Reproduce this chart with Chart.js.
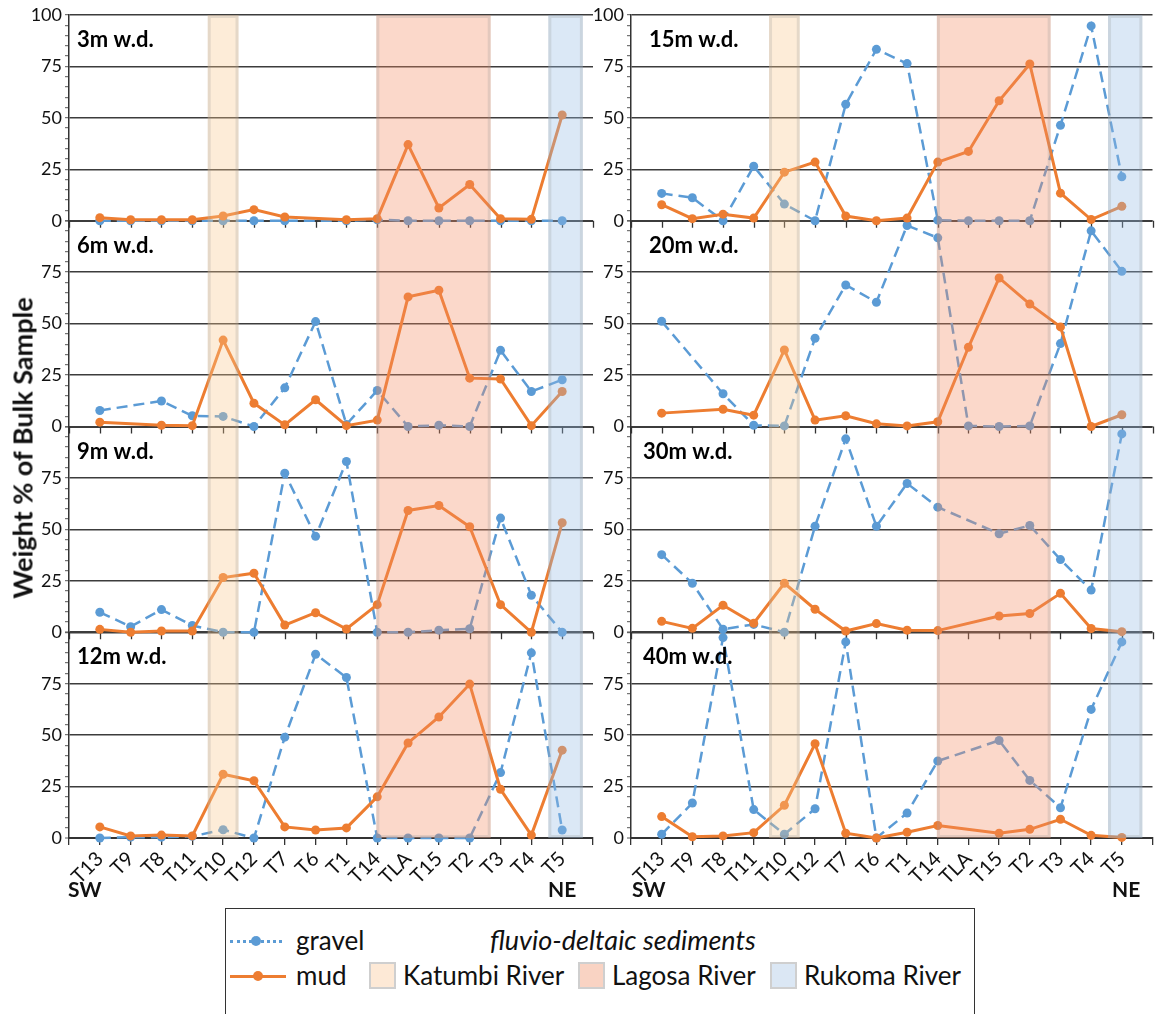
<!DOCTYPE html>
<html>
<head>
<meta charset="utf-8">
<script src="https://cdn.jsdelivr.net/npm/chart.js@4.4.1/dist/chart.umd.min.js"></script>
<style>
  html, body { margin: 0; padding: 0; background: #fff; }
  body { width: 1157px; height: 1014px; position: relative; overflow: hidden; font-family: Lato, "Open Sans", sans-serif; color: #111; }
  #leftChart { position: absolute; left: 0; top: 0; }
  #rightChart { position: absolute; left: 590px; top: 0; }
  #ytitle { position: absolute; left: 22px; top: 448px; transform: translate(-50%, -50%) rotate(-90deg);
            font-weight: bold; font-size: 27px; white-space: nowrap; }
  .dir { position: absolute; top: 876px; font-weight: bold; font-size: 21px; }
  #legend { position: absolute; left: 225px; top: 908px; width: 750px; height: 108px; border: 1.5px solid #333; box-sizing: border-box; font-size: 26px; }
  #legend .t { position: absolute; line-height: 26px; white-space: nowrap; }
  .ln { position: absolute; height: 0; }
  .dot { position: absolute; width: 10px; height: 10px; border-radius: 50%; }
  .sw { position: absolute; width: 27px; height: 27px; box-sizing: border-box; border: 2px solid #cfcfcf; }
</style>
</head>
<body>
<canvas id="leftChart" width="600" height="900"></canvas>
<canvas id="rightChart" width="567" height="900"></canvas>
<div id="ytitle">Weight % of Bulk Sample</div>
<div class="dir" style="left:68px">SW</div>
<div class="dir" style="left:548px">NE</div>
<div class="dir" style="left:632px">SW</div>
<div class="dir" style="left:1112px">NE</div>
<div id="legend">
  <div class="ln" style="left:4px; width:52px; top:31px; border-top:3px dotted #5b9bd5;"></div>
  <div class="dot" style="left:25px; top:27px; background:#5b9bd5;"></div>
  <div class="t" style="left:70px; top:18px;">gravel</div>
  <div class="t" style="left:264px; top:18px; font-style:italic; font-size:27px;">fluvio-deltaic sediments</div>
  <div class="ln" style="left:4px; width:56px; top:66px; border-top:3px solid #ed7d31;"></div>
  <div class="dot" style="left:27px; top:62px; background:#ed7d31;"></div>
  <div class="t" style="left:70px; top:53px;">mud</div>
  <div class="sw" style="left:143px; top:53px; background:#fde9d6;"></div>
  <div class="t" style="left:177px; top:53px;">Katumbi River</div>
  <div class="sw" style="left:352px; top:53px; background:#f9d3c3;"></div>
  <div class="t" style="left:386px; top:53px;">Lagosa River</div>
  <div class="sw" style="left:544px; top:53px; background:#dbe7f4;"></div>
  <div class="t" style="left:578px; top:53px;">Rukoma River</div>
</div>

<script>
// Sample stations, ordered SW -> NE along the shoreline
const CATEGORIES = ['T13','T9','T8','T11','T10','T12','T7','T6','T1','T14','TLA','T15','T2','T3','T4','T5'];

// Weight % of bulk sample per water depth (null = no sample)
const GRAVEL_3M  = [0, 0, 0, 0, 0, 0, 0, null, 0, 0.5, 0, 0, 0, 0, 0, 0];
const MUD_3M     = [1.5, 0.5, 0.5, 0.5, 2.3, 5.4, 1.8, null, 0.5, 1, 37, 6.2, 17.6, 1, 0.7, 51.4];
const GRAVEL_6M  = [7.8, null, 12.4, 5.2, 4.9, 0, 18.8, 51, 1, 17.5, 0, 0.6, 0, 37, 17, 22.7];
const MUD_6M     = [2.1, null, 0.6, 0.4, 42, 11.3, 0.8, 13, 0.4, 3.1, 63, 66.2, 23.5, 23.1, 0.4, 17];
const GRAVEL_9M  = [9.7, 2.7, 11, 3.3, 0, 0, 77.3, 46.6, 83, 0, 0, 1, 1.7, 55.5, 18, 0];
const MUD_9M     = [1.4, 0, 0.6, 0.6, 26.6, 28.7, 3.5, 9.5, 1.6, 13.4, 59.2, 61.6, 51.3, 13.4, 0, 53.2];
const GRAVEL_12M = [0, 0.4, 0.4, 0.8, 4, 0, 49, 89.3, 78, 0, 0, 0, 0, 31.8, 90, 3.9];
const MUD_12M    = [5.4, 1, 1.4, 1, 31, 27.8, 5.4, 3.9, 4.9, 20, 46.2, 58.8, 74.8, 23.7, 1.4, 42.7];
const GRAVEL_15M = [13.3, 11.2, 0, 26.5, 8.1, 0, 56.6, 83.3, 76.4, 0.3, 0, 0, 0, 46.4, 94.7, 21.4];
const MUD_15M    = [7.8, 1, 3.2, 1.3, 23.6, 28.5, 2.3, 0, 1.3, 28.5, 33.7, 58.3, 76.2, 13.4, 0.6, 7];
const GRAVEL_20M = [51.1, null, 15.9, 0.6, 0.3, 42.9, 68.8, 60.4, 97.7, 91.7, 0.3, 0, 0.3, 40.3, 95.1, 75.4];
const MUD_20M    = [6.5, null, 8.4, 5.5, 37.2, 3.1, 5.2, 1.3, 0.3, 2.3, 38.5, 72.2, 59.5, 48.4, 0, 5.7];
const GRAVEL_30M = [37.7, 23.8, 1.5, 3.8, 0, 51.5, 94, 51.5, 72.3, 60.8, null, 47.9, 51.9, 35.3, 20.5, 96.4];
const MUD_30M    = [5.3, 1.9, 13.1, 4.4, 23.8, 11.2, 0.6, 4.2, 1, 0.8, null, 7.9, 9.1, 18.9, 1.8, 0.3];
const GRAVEL_40M = [1.8, 17, 97.4, 13.8, 1.8, 14.2, 95.3, 0, 12.1, 37.4, null, 47.4, 28, 14.7, 62.5, 95.3];
const MUD_40M    = [10.4, 0.6, 1, 2.6, 15.9, 45.8, 2.3, 0, 2.8, 6.1, null, 2.3, 4.2, 9.1, 1.3, 0.3];

const Y_MAJOR_STEP = 25;
const Y_MIN = 0, Y_MAX = 100;

// River-mouth zones, in station-index units along the x axis
const RIVER_BANDS = [
  { name: 'Katumbi River', from: 3.5,  to: 4.5,   fill: 'rgba(250,200,140,0.34)' },
  { name: 'Lagosa River',  from: 8.97, to: 12.68, fill: 'rgba(243,140,100,0.34)' },
  { name: 'Rukoma River',  from: 14.55, to: 15.67, fill: 'rgba(150,188,228,0.34)' }
];

const GRAVEL_COLOR = '#5b9bd5';
const MUD_COLOR = '#ed7d31';
const GRID_COLOR = '#3c3c3c';

Chart.defaults.font.family = 'Lato, "Open Sans", sans-serif';
Chart.defaults.color = '#111';

function toPoints(values) {
  return values.map((v, i) => ({ x: i, y: v }));
}

const LEFT_PANELS = [
  { label: '3m w.d.',  gravel: GRAVEL_3M,  mud: MUD_3M,  labelDx: 8 },
  { label: '6m w.d.',  gravel: GRAVEL_6M,  mud: MUD_6M,  labelDx: 8 },
  { label: '9m w.d.',  gravel: GRAVEL_9M,  mud: MUD_9M,  labelDx: 8 },
  { label: '12m w.d.', gravel: GRAVEL_12M, mud: MUD_12M, labelDx: 8 }
];
const RIGHT_PANELS = [
  { label: '15m w.d.', gravel: GRAVEL_15M, mud: MUD_15M, labelDx: 18 },
  { label: '20m w.d.', gravel: GRAVEL_20M, mud: MUD_20M, labelDx: 18 },
  { label: '30m w.d.', gravel: GRAVEL_30M, mud: MUD_30M, labelDx: 12 },
  { label: '40m w.d.', gravel: GRAVEL_40M, mud: MUD_40M, labelDx: 12 }
];

const decorPlugin = {
  id: 'panelDecor',
  beforeDatasetsDraw(chart, args, opts) {
    // tick marks under each inner panel's zero line
    const { ctx } = chart;
    const x = chart.scales.x;
    const panels = opts.panels;
    ctx.save();
    ctx.strokeStyle = '#333';
    ctx.lineWidth = 1.3;
    panels.forEach((p, i) => {
      if (i === panels.length - 1) return;
      const y0 = chart.scales['y' + i].getPixelForValue(0);
      x.ticks.forEach(t => {
        const px = Math.round(x.getPixelForValue(t.value)) + 0.5;
        ctx.beginPath();
        ctx.moveTo(px, y0);
        ctx.lineTo(px, y0 + 7);
        ctx.stroke();
      });
    });
    ctx.restore();
  },
  afterDatasetsDraw(chart) {
    // translucent river-mouth zones laid over the data
    const { ctx, chartArea } = chart;
    const x = chart.scales.x;
    ctx.save();
    RIVER_BANDS.forEach(b => {
      const x0 = x.getPixelForValue(b.from);
      const x1 = x.getPixelForValue(b.to);
      ctx.fillStyle = b.fill;
      ctx.fillRect(x0, chartArea.top, x1 - x0, chartArea.bottom - chartArea.top);
      ctx.strokeStyle = 'rgba(140,140,140,0.22)';
      ctx.lineWidth = 3;
      ctx.strokeRect(x0 + 1.5, chartArea.top + 1.5, x1 - x0 - 3, chartArea.bottom - chartArea.top - 3);
    });
    ctx.restore();
  },
  afterDraw(chart, args, opts) {
    // depth labels in each panel
    const { ctx, chartArea } = chart;
    ctx.save();
    ctx.font = 'bold 22px Lato, "Open Sans", sans-serif';
    ctx.fillStyle = '#000';
    ctx.textBaseline = 'middle';
    opts.panels.forEach((p, i) => {
      const ys = chart.scales['y' + i];
      ctx.fillText(p.label, chartArea.left + p.labelDx, ys.top + 25);
    });
    ctx.restore();
  }
};

function buildChart(canvasId, panels, yWidth, padRight) {
  const datasets = [];
  panels.forEach((p, i) => {
    datasets.push({
      label: 'mud', data: toPoints(p.mud), yAxisID: 'y' + i, order: 0,
      borderColor: MUD_COLOR, backgroundColor: MUD_COLOR, borderWidth: 3,
      pointRadius: 4.5, pointBorderWidth: 0, pointBackgroundColor: MUD_COLOR,
      spanGaps: true, clip: false, tension: 0
    });
    datasets.push({
      label: 'gravel', data: toPoints(p.gravel), yAxisID: 'y' + i, order: 1,
      borderColor: GRAVEL_COLOR, backgroundColor: GRAVEL_COLOR, borderWidth: 2.5,
      borderDash: [11, 6], pointRadius: 4.5, pointBorderWidth: 0, pointBackgroundColor: GRAVEL_COLOR,
      spanGaps: true, clip: false, tension: 0
    });
  });

  const scales = {
    x: {
      type: 'linear', position: 'bottom', min: -1, max: CATEGORIES.length,
      afterBuildTicks: s => { s.ticks = []; for (let v = -1; v <= CATEGORIES.length; v++) s.ticks.push({ value: v }); },
      afterFit: s => { s.height = 62; s.paddingLeft = 0; s.paddingRight = 0; },
      ticks: {
        autoSkip: false, minRotation: 45, maxRotation: 45, padding: 2,
        font: { size: 20 }, color: '#111',
        callback: v => (CATEGORIES[v] !== undefined ? CATEGORIES[v] : '')
      },
      grid: { drawOnChartArea: false, drawTicks: true, tickLength: 7, color: '#333', lineWidth: 1.3 },
      border: { display: true, color: '#333', width: 2 }
    }
  };
  // stacked y axes: defined bottom panel first so the first panel ends up on top
  for (let i = panels.length - 1; i >= 0; i--) {
    const isTop = i === 0;
    scales['y' + i] = {
      type: 'linear', position: 'left', stack: 'depth', stackWeight: 1,
      min: Y_MIN, max: Y_MAX,
      afterFit: s => { s.width = yWidth; s.paddingTop = 0; s.paddingBottom = 0; },
      ticks: {
        stepSize: 5, autoSkip: false, padding: 3, font: { size: 18 }, color: '#111',
        callback: v => (v % Y_MAJOR_STEP === 0 && (v < Y_MAX || isTop) ? String(v) : '')
      },
      grid: {
        drawTicks: true, tickLength: 4, tickColor: '#555', tickWidth: 1,
        color: c => (c.tick && c.tick.value % Y_MAJOR_STEP === 0 ? GRID_COLOR : 'rgba(0,0,0,0)'),
        lineWidth: c => (c.tick && c.tick.value === 0 ? 2 : 1.4)
      },
      border: { display: true, color: '#333', width: 1.5 }
    };
  }

  return new Chart(document.getElementById(canvasId), {
    type: 'line',
    data: { datasets },
    options: {
      responsive: false, animation: false, devicePixelRatio: 1,
      layout: { padding: { top: 15, left: 0, right: padRight, bottom: 0 } },
      plugins: { legend: { display: false }, tooltip: { enabled: false }, panelDecor: { panels } },
      scales
    },
    plugins: [decorPlugin]
  });
}

buildChart('leftChart', LEFT_PANELS, 69, 7);
buildChart('rightChart', RIGHT_PANELS, 41, 2);
</script>
</body>
</html>
